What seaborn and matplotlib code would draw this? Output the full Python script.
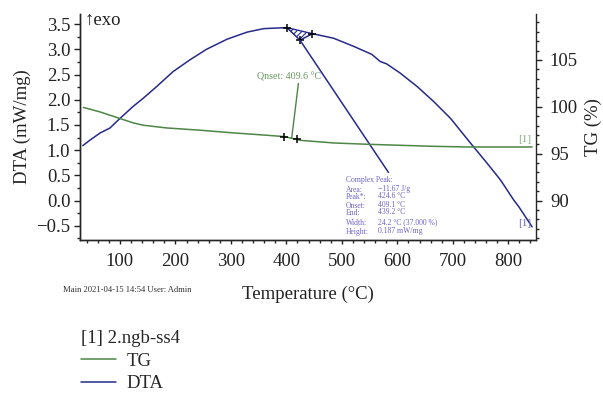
import matplotlib
matplotlib.use("Agg")
import numpy as np
import pandas as pd
import matplotlib.pyplot as plt
import seaborn as sns
from matplotlib.ticker import MultipleLocator

# ---- measured data -------------------------------------------------------
# DTA signal, mW/mg (left axis)
dta_temp = [33, 46, 64, 82, 100, 124, 142, 166, 196, 226, 256, 293, 329, 359,
            401, 424.6, 447, 485, 521, 554, 569, 581, 605, 636, 666, 696, 732,
            762, 786, 810, 819, 843]
dta_val = [1.09, 1.20, 1.34, 1.44, 1.63, 1.87, 2.03, 2.26, 2.56, 2.79, 3.00,
           3.20, 3.34, 3.41, 3.43, 3.181, 3.31, 3.22, 3.06, 2.90, 2.76, 2.71,
           2.53, 2.26, 1.96, 1.63, 1.14, 0.74, 0.41, 0.01, -0.12, -0.52]

# TG signal, % (right axis)
tg_temp = [34, 64, 94, 124, 142, 184, 244, 305, 365, 395, 419, 425, 485, 545,
           605, 665, 726, 786, 843]
tg_val = [99.94, 99.46, 98.87, 98.29, 98.04, 97.75, 97.51, 97.22, 96.97,
          96.83, 96.54, 96.43, 96.15, 96.01, 95.90, 95.79, 95.72, 95.72, 95.72]

# Peak evaluation results
peak_area = -11.67        # J/g
peak_temp = 424.6         # degC
peak_onset = 409.1        # degC
peak_end = 439.2          # degC
peak_width = 24.2         # degC
peak_width_pct = 37.000   # %
peak_height = 0.187       # mW/mg
tg_onset = 409.6          # degC

sample_name = "[1] 2.ngb-ss4"
series_names = ["TG", "DTA"]

# ---- style ---------------------------------------------------------------
sns.set_theme(style="ticks")
plt.rcParams["font.family"] = ["Liberation Serif", "DejaVu Serif"]
plt.rcParams["hatch.linewidth"] = 0.8
plt.rcParams["axes.linewidth"] = 1.0

NAVY = "#262a8a"
GREEN = "#4d8646"
PEAK_TXT = "#6b63c6"
FS = 13.5

fig = plt.figure(figsize=(6.03, 3.97), dpi=100)
W, H = 603, 397
ax = fig.add_axes([80 / W, 1 - 240 / H, (536 - 80) / W, (240 - 14) / H])
ax2 = ax.twinx()

df_dta = pd.DataFrame({"Temperature": dta_temp, "DTA": dta_val})
df_tg = pd.DataFrame({"Temperature": tg_temp, "TG": tg_val})

sns.lineplot(data=df_dta, x="Temperature", y="DTA", ax=ax, color=NAVY,
             lw=1.1, label="DTA", legend=False)
sns.lineplot(data=df_tg, x="Temperature", y="TG", ax=ax2, color=GREEN,
             lw=1.1, label="TG", legend=False)

ax.set_xlim(28, 850)
ax.set_ylim(-0.78, 3.70)
ax2.set_ylim(85.8, 109.9)

# ---- DTA peak evaluation: baseline, hatched area, markers ----------------
i_peak = dta_temp.index(peak_temp)
t_l, t_r = dta_temp[i_peak - 1], dta_temp[i_peak + 1]
v_l, v_r = dta_val[i_peak - 1], dta_val[i_peak + 1]
seg_t = np.array([t_l, peak_temp, t_r])
base = np.interp(seg_t, [t_l, t_r], [v_l, v_r])
curve = np.array(dta_val[i_peak - 1:i_peak + 2])
ax.plot([t_l, t_r], [v_l, v_r], color=NAVY, lw=1.0)
ax.fill_between(seg_t, base, curve, facecolor="none", edgecolor=NAVY,
                hatch="//////", lw=0)
ax.plot([t_l, peak_temp, t_r], [v_l, dta_val[i_peak], v_r], ls="none",
        marker="+", ms=6, mew=1.1, color="black")
ax.plot([peak_temp, 584], [dta_val[i_peak], 0.56], color=NAVY, lw=1.1)

peak_rows = [
    ("Area:", f"\u2212{abs(peak_area):.2f} J/g"),
    ("Peak*:", f"{peak_temp:.1f} \u00b0C"),
    ("Onset:", f"{peak_onset:.1f} \u00b0C"),
    ("End:", f"{peak_end:.1f} \u00b0C"),
    ("Width:", f"{peak_width:.1f} \u00b0C ({peak_width_pct:.3f} %)"),
    ("Height:", f"{peak_height:.3f} mW/mg"),
]
row_y = [190.5, 197.0, 206, 213.3, 223.3, 232.3]
PFS = 5.5
fig.text(346 / W, 1 - 180 / H, "Complex Peak:", fontsize=PFS,
         color=PEAK_TXT, va="center")
for (lab, val), y in zip(peak_rows, row_y):
    fig.text(346 / W, 1 - y / H, lab, fontsize=PFS, color=PEAK_TXT,
             va="center")
    fig.text(378 / W, 1 - (y - 1.2) / H, val, fontsize=PFS, color=PEAK_TXT,
             va="center")

# ---- TG onset evaluation --------------------------------------------------
on_idx = [9, 10]
ax2.plot([tg_temp[i] for i in on_idx], [tg_val[i] for i in on_idx],
         ls="none", marker="+", ms=6, mew=1.1, color="black")
tg_at_onset = np.interp(tg_onset, tg_temp, tg_val)
ax2.plot([tg_onset, 421.7], [tg_at_onset, 102.5], color=GREEN, lw=1.0)
ax2.text(405, 103.2, f"Qnset: {tg_onset:.1f} \u00b0C", color="#6a9a62",
         fontsize=7.2, ha="center", va="center")

# curve tags
ax2.text(842, 96.0, "[1]", color="#84ad7c", fontsize=8, ha="right",
         va="bottom")
ax.text(842, -0.46, "[1]", color="#6468b4", fontsize=8, ha="right",
        va="center")

# exo direction
ax.text(36, 3.57, "\u2191exo", fontsize=FS, va="center", ha="left",
        color="#222222", family=["Liberation Serif", "DejaVu Sans"])

# ---- axes cosmetics --------------------------------------------------------
for a in (ax, ax2):
    a.spines["top"].set_visible(False)
ax.spines["right"].set_visible(False)

ax.xaxis.set_major_locator(MultipleLocator(100))
ax.xaxis.set_minor_locator(MultipleLocator(20))
ax.yaxis.set_major_locator(MultipleLocator(0.5))
ax.yaxis.set_minor_locator(MultipleLocator(0.25))
ax2.yaxis.set_major_locator(MultipleLocator(5))
ax2.yaxis.set_minor_locator(MultipleLocator(1))

ax.tick_params(axis="x", which="major", direction="out", length=3, width=1,
               pad=6, labelsize=FS, colors="#222222")
ax.tick_params(axis="x", which="minor", direction="out", length=2, width=1)
ax.tick_params(axis="y", which="major", direction="out", length=4, width=1,
               pad=3, labelsize=FS, colors="#222222")
ax.tick_params(axis="y", which="minor", direction="out", length=2.5, width=1)
ax2.tick_params(axis="y", which="major", direction="out", length=4, width=1,
                pad=6, labelsize=FS, colors="#222222")
ax2.tick_params(axis="y", which="minor", direction="out", length=2.5, width=1)

ax.set_xlabel("Temperature (\u00b0C)", fontsize=FS, labelpad=12,
              color="#222222")
ax.set_ylabel("DTA (mW/mg)", fontsize=FS, labelpad=4, color="#222222")
ax2.set_ylabel("TG (%)", fontsize=FS, labelpad=5, color="#222222")

fig.text(127 / W, 1 - 290 / H, "Main 2021-04-15 14:54 User: Admin",
         fontsize=6.2, color="#333333", ha="center", va="center")

# ---- legend --------------------------------------------------------------
tg_line = ax2.get_lines()[0]
dta_line = ax.get_lines()[0]
leg = fig.legend(handles=[tg_line, dta_line], labels=series_names,
                 title=sample_name, loc="upper left",
                 bbox_to_anchor=(81 / W, 1 - 330 / H), frameon=False,
                 alignment="left", fontsize=FS, title_fontsize=FS,
                 handlelength=1.85, handletextpad=0.6, labelspacing=0.3,
                 borderpad=0, borderaxespad=0)

fig.savefig("out.png", dpi=100)
